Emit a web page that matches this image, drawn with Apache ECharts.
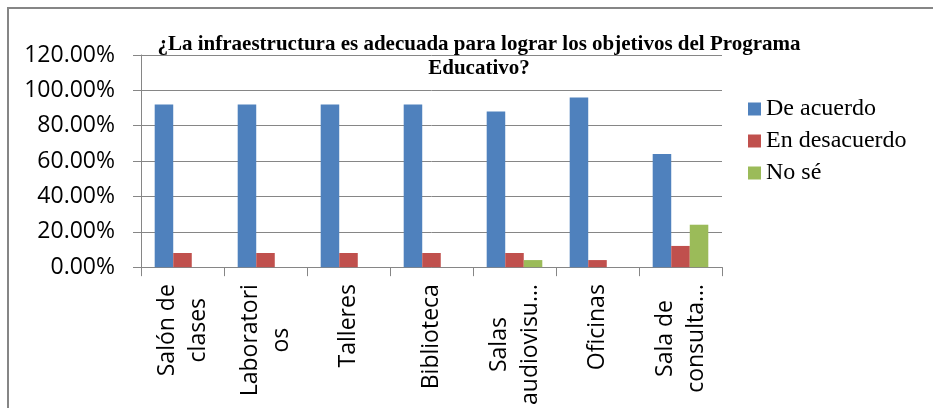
<!DOCTYPE html>
<html>
<head>
<meta charset="utf-8">
<script src="https://cdn.jsdelivr.net/npm/echarts@6/dist/echarts.min.js"></script>
<style>
  html, body { margin: 0; padding: 0; background: #fff; }
  #chart { width: 933px; height: 408px; }
</style>
</head>
<body>
<div id="chart"></div>
<script>
// Survey answers per facility (percent of respondents)
const categories = [
  'Salón de\nclases',
  'Laboratori\nos',
  'Talleres',
  'Biblioteca',
  'Salas\naudiovisu…',
  'Oficinas',
  'Sala de\nconsulta…'
];
const deAcuerdo    = [92, 92, 92, 92, 88, 96, 64];
const enDesacuerdo = [8, 8, 8, 8, 8, 4, 12];
const noSe         = [0, 0, 0, 0, 4, 0, 24];
const seriesNames  = ['De acuerdo', 'En desacuerdo', 'No sé'];
const yTicks = { min: 0, max: 120, step: 20 };

const titleText = '¿La infraestructura es adecuada para lograr los objetivos del Programa\nEducativo?';

const gray = '#868686';
const sans = 'Open Sans';
const serif = 'Liberation Serif';

const chart = echarts.init(document.getElementById('chart'));

function bar(name, data, color) {
  return {
    name: name,
    type: 'bar',
    data: data,
    barGap: '0%',
    barCategoryGap: '33%',
    itemStyle: { color: color },
    emphasis: { disabled: true }
  };
}

chart.setOption({
  animation: false,
  color: ['#4F81BD', '#C0504D', '#9BBB59'],
  graphic: [{
    type: 'rect',
    z: -10,
    shape: { x: 8, y: 8, width: 1000, height: 500 },
    style: { fill: 'none', stroke: gray, lineWidth: 2 }
  }],
  title: {
    text: titleText,
    left: 474,
    top: 28,
    textAlign: 'center',
    textStyle: {
      fontFamily: serif,
      fontWeight: 'bold',
      fontSize: 21,
      lineHeight: 24,
      color: '#000'
    }
  },
  legend: {
    orient: 'vertical',
    left: 743,
    top: 92,
    itemWidth: 13,
    itemHeight: 13,
    itemGap: 8,
    icon: 'rect',
    data: seriesNames,
    textStyle: { fontFamily: serif, fontSize: 24, color: '#000' }
  },
  grid: { left: 141, right: 211, top: 55, bottom: 140 },
  xAxis: {
    type: 'category',
    data: categories,
    axisLine: { lineStyle: { color: gray, width: 1 } },
    axisTick: { show: true, length: 9, lineStyle: { color: gray } },
    axisLabel: {
      rotate: 90,
      margin: 17,
      interval: 0,
      formatter: function (v) {
        return v.split('\n').map(function (l) { return '{c|' + l + '}'; }).join('\n');
      },
      rich: {
        c: {
          align: 'center',
          fontFamily: sans,
          fontSize: 23,
          lineHeight: 31,
          color: '#000'
        }
      }
    }
  },
  yAxis: {
    type: 'value',
    min: yTicks.min,
    max: yTicks.max,
    interval: yTicks.step,
    axisLine: { show: true, lineStyle: { color: gray, width: 1 } },
    axisTick: { show: true, length: 8, lineStyle: { color: gray } },
    splitLine: { lineStyle: { color: gray, width: 1 } },
    axisLabel: {
      margin: 26,
      fontFamily: sans,
      fontSize: 23,
      color: '#000',
      formatter: function (v) { return v.toFixed(2) + '%'; }
    }
  },
  series: [
    bar(seriesNames[0], deAcuerdo, '#4F81BD'),
    bar(seriesNames[1], enDesacuerdo, '#C0504D'),
    bar(seriesNames[2], noSe, '#9BBB59')
  ]
});
</script>
</body>
</html>
